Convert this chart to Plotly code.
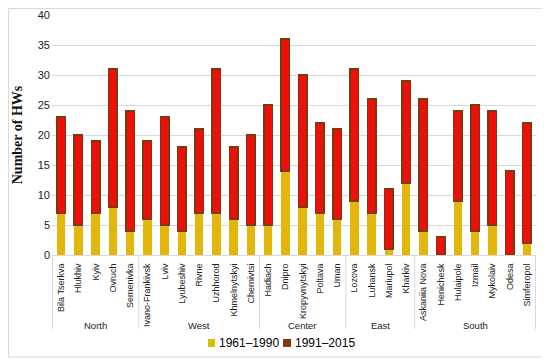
import plotly.graph_objects as go

cities = ["Bila Tserkva", "Hlukhiv", "Kyiv", "Ovruch", "Semenivka",
          "Ivano-Frankivsk", "Lviv", "Lyubeshiv", "Rivne", "Uzhhorod", "Khmelnytskyi", "Chernivtsi",
          "Hadiach", "Dnipro", "Kropyvnytskyi", "Poltava", "Uman",
          "Lozova", "Luhansk", "Mariupol", "Kharkiv",
          "Askaniia Nova", "Henichesk", "Hulaipole", "Izmail", "Mykolaiv", "Odesa", "Simferopol"]
regions = ["North"] * 5 + ["West"] * 7 + ["Center"] * 5 + ["East"] * 4 + ["South"] * 7

# number of heat waves per period
hw_1961_1990 = [7, 5, 7, 8, 4, 6, 5, 4, 7, 7, 6, 5, 5, 14, 8, 7, 6, 9, 7, 1, 12, 4, 0, 9, 4, 5, 0, 2]
hw_1991_2015 = [16, 15, 12, 23, 20, 13, 18, 14, 14, 24, 12, 15, 20, 22, 22, 15, 15, 22, 19, 10, 17, 22, 3, 15, 21, 19, 14, 20]

series_names = ["1961–1990", "1991–2015"]
y_ticks = [0, 5, 10, 15, 20, 25, 30, 35, 40]

c_early = "#e2b60a"
c_early_key = "#d4c200"
c_late_fill = "#ec0f0a"
c_late = "#7e380c"
grid_c = "#d9d9d9"
narrow = "Liberation Sans Narrow, Liberation Sans, sans-serif"

fig = go.Figure()
fig.add_trace(go.Bar(x=cities, y=hw_1961_1990, name=series_names[0],
                     marker=dict(color=c_early, line=dict(width=0))))
fig.add_trace(go.Bar(x=cities, y=hw_1991_2015, name=series_names[1],
                     marker=dict(color=c_late_fill, line=dict(color=c_late, width=1.5))))

# outer frame
shapes = [dict(type="rect", xref="paper", yref="paper", x0=-0.0899, x1=1.0227, y0=-0.425, y1=1.027,
               line=dict(color=grid_c, width=1), fillcolor="rgba(0,0,0,0)", layer="below")]
annotations = []

# region groups: dividers and labels below the city labels
groups = []
for i, r in enumerate(regions):
    if not groups or groups[-1][0] != r:
        groups.append([r, i, i])
    else:
        groups[-1][2] = i
bounds = [g[1] - 0.5 for g in groups] + [groups[-1][2] + 0.5]
for b in bounds:
    shapes.append(dict(type="line", xref="x", yref="paper", x0=b, x1=b, y0=0, y1=-0.308,
                       line=dict(color=grid_c, width=1)))
for name, i0, i1 in groups:
    annotations.append(dict(text=name, xref="x", yref="paper", x=(i0 + i1) / 2, y=-0.292,
                            xanchor="center", yanchor="middle", showarrow=False,
                            font=dict(family=narrow, size=9.5, color="#222")))

# legend drawn as key squares + text (paper coordinates)
key_font = dict(family=narrow, size=12, color="#000")
legend_items = [(series_names[0], c_early_key, 0.3223, 0.3368, 0.3409),
                (series_names[1], c_late, 0.4773, 0.4938, 0.4979)]
for name, col, sx0, sx1, tx in legend_items:
    shapes.append(dict(type="rect", xref="paper", yref="paper", x0=sx0, x1=sx1, y0=-0.383, y1=-0.35,
                       line=dict(width=0), fillcolor=col))
    annotations.append(dict(text=name, xref="paper", yref="paper", x=tx, y=-0.366,
                            xanchor="left", yanchor="middle", showarrow=False, font=key_font))

# the page body adds an 8px offset, so the figure is sized to fit the window
fig.update_layout(
    width=542, height=355,
    barmode="stack", bargap=0.5,
    paper_bgcolor="white", plot_bgcolor="white",
    margin=dict(l=44, r=14, t=7, b=108, autoexpand=False),
    font=dict(family="Liberation Sans, Arial, sans-serif", color="#222"),
    showlegend=False,
    yaxis=dict(range=[0, 40], tickvals=y_ticks, showgrid=True, gridcolor=grid_c, gridwidth=1,
               zeroline=False, showline=False, ticks="", automargin=False, ticklabelstandoff=1,
               tickfont=dict(size=11, color="#222"),
               title=dict(text="<b>Number of HWs</b>", standoff=11,
                          font=dict(family="Liberation Serif, Times New Roman, serif", size=14, color="#111"))),
    xaxis=dict(type="category", tickangle=-90, automargin=False, ticklabelstandoff=4,
               tickfont=dict(family=narrow, size=9, color="#222"),
               showline=True, linecolor=grid_c, ticks=""),
    shapes=shapes,
    annotations=annotations,
)

fig.write_html("out.html")
